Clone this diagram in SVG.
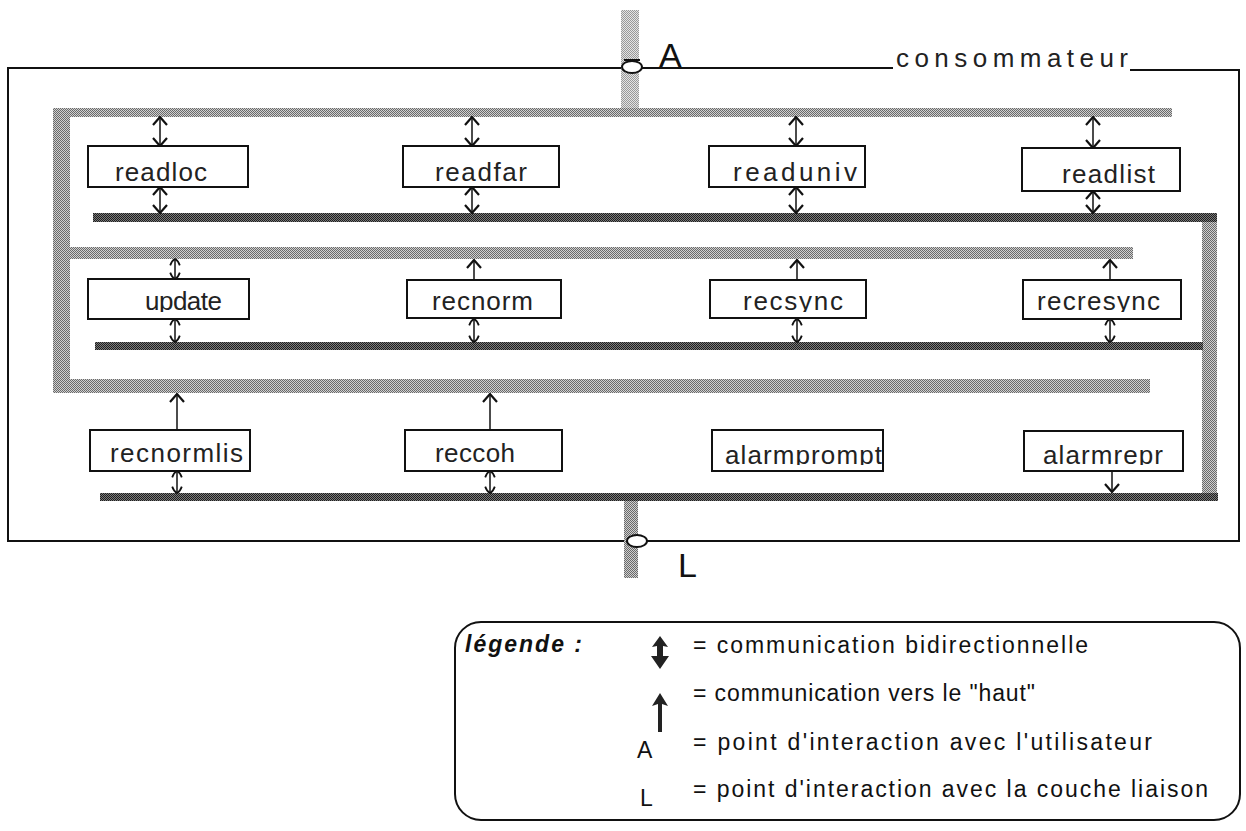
<svg xmlns="http://www.w3.org/2000/svg" width="1246" height="831" viewBox="0 0 1246 831">
<defs>
<pattern id="pDark" width="2" height="2" patternUnits="userSpaceOnUse"><rect width="2" height="2" fill="#7a7a7a"/><rect width="1" height="1" fill="#1e1e1e"/><rect x="1" y="1" width="1" height="1" fill="#1e1e1e"/></pattern>
<pattern id="pLight" width="2" height="2" patternUnits="userSpaceOnUse"><rect width="2" height="2" fill="#d0d0d0"/><rect width="1" height="1" fill="#6a6a6a"/><rect x="1" y="1" width="1" height="1" fill="#6a6a6a"/></pattern>
<pattern id="pPale" width="2" height="2" patternUnits="userSpaceOnUse"><rect width="2" height="2" fill="#e4e4e4"/><rect width="1" height="1" fill="#999"/><rect x="1" y="1" width="1" height="1" fill="#999"/></pattern>
<marker id="ah" viewBox="0 0 10 16" refX="9" refY="8" markerWidth="10" markerHeight="16" markerUnits="userSpaceOnUse" orient="auto-start-reverse"><path d="M1 1 L9 8 L1 15" fill="none" stroke="#111" stroke-width="2.2"/></marker>
<marker id="ahs" viewBox="0 0 10 14" refX="9" refY="7" markerWidth="8" markerHeight="14" markerUnits="userSpaceOnUse" orient="auto-start-reverse"><path d="M1 1 Q7 3 9 7 Q7 11 1 13" fill="none" stroke="#111" stroke-width="2.2"/></marker>
<clipPath id="clip2" clipPathUnits="userSpaceOnUse"><rect x="0" y="270" width="1246" height="42"/></clipPath>
<clipPath id="clip3" clipPathUnits="userSpaceOnUse"><rect x="0" y="420" width="1246" height="45"/></clipPath>
</defs>
<style>
.box{fill:#fff;stroke:#111;stroke-width:2}
.lbl{font-family:"Liberation Sans",Arial,sans-serif;font-size:26px;fill:#222}
.frame{fill:none;stroke:#111;stroke-width:2}
.bi{stroke:#111;stroke-width:1.5;fill:none;marker-start:url(#ah);marker-end:url(#ah)}
.bis{stroke:#111;stroke-width:1.5;fill:none;marker-start:url(#ahs);marker-end:url(#ahs)}
.up{stroke:#111;stroke-width:1.5;fill:none;marker-end:url(#ah)}
.leg{font-family:"Liberation Sans",Arial,sans-serif;font-size:23px;fill:#111}
</style>
<rect width="1246" height="831" fill="#fff"/>

<g id="consommateur">
<path class="frame" d="M893 68 H8 V541 H1239 V70 H1130"/>
<text class="lbl" x="896" y="67" textLength="232" lengthAdjust="spacing">consommateur</text>
</g>

<g id="bands">
<rect x="621" y="10" width="18" height="98" fill="url(#pPale)"/>
<rect x="53" y="108" width="1119" height="9" fill="url(#pLight)"/>
<rect x="53" y="108" width="17" height="285" fill="url(#pLight)"/>
<rect x="70" y="247" width="1063" height="12" fill="url(#pLight)"/>
<rect x="53" y="379" width="1097" height="14" fill="url(#pLight)"/>
<rect x="1202" y="213" width="15" height="288" fill="url(#pLight)"/>
<rect x="93" y="213" width="1124" height="9" fill="url(#pDark)"/>
<rect x="95" y="342" width="1108" height="8" fill="url(#pDark)"/>
<rect x="100" y="493" width="1118" height="8" fill="url(#pDark)"/>
<rect x="624" y="501" width="14" height="77" fill="url(#pLight)"/>
</g>

<g id="pointA">
<ellipse cx="632" cy="67" rx="10" ry="6" fill="#fff" stroke="#111" stroke-width="2"/>
<line x1="624" y1="60" x2="640" y2="60" stroke="#111" stroke-width="2"/>
<text x="659" y="67" font-family="Liberation Sans, Arial, sans-serif" font-size="34" fill="#111">A</text>
</g>
<g id="pointL">
<ellipse cx="637" cy="541" rx="10" ry="6" fill="#fff" stroke="#111" stroke-width="2"/>
<text x="678" y="577" font-family="Liberation Sans, Arial, sans-serif" font-size="34" fill="#111">L</text>
</g>

<g id="connectors">
<line class="bi" x1="160" y1="117" x2="160" y2="146"/>
<line class="bi" x1="160" y1="187" x2="160" y2="213"/>
<line class="bi" x1="472" y1="117" x2="472" y2="146"/>
<line class="bi" x1="472" y1="187" x2="472" y2="213"/>
<line class="bi" x1="796" y1="117" x2="796" y2="146"/>
<line class="bi" x1="796" y1="187" x2="796" y2="213"/>
<line class="bi" x1="1093" y1="117" x2="1093" y2="148"/>
<line class="bi" x1="1093" y1="191" x2="1093" y2="213"/>
<line class="bis" x1="175" y1="259" x2="175" y2="279"/>
<line class="bis" x1="175" y1="319" x2="175" y2="342"/>
<line class="up" x1="474" y1="280" x2="474" y2="260"/>
<line class="bis" x1="474" y1="319" x2="474" y2="342"/>
<line class="up" x1="797" y1="280" x2="797" y2="260"/>
<line class="bis" x1="797" y1="319" x2="797" y2="342"/>
<line class="up" x1="1110" y1="280" x2="1110" y2="260"/>
<line class="bis" x1="1110" y1="319" x2="1110" y2="342"/>
<line class="up" x1="177" y1="430" x2="177" y2="394"/>
<line class="bis" x1="177" y1="471" x2="177" y2="493"/>
<line class="up" x1="490" y1="430" x2="490" y2="394"/>
<line class="bis" x1="490" y1="471" x2="490" y2="493"/>
<line class="up" x1="1112" y1="466" x2="1112" y2="492"/>
</g>

<g id="readloc"><rect class="box" x="88" y="146" width="160" height="41"/><text class="lbl" x="115" y="181" textLength="92" lengthAdjust="spacing">readloc</text></g>
<g id="readfar"><rect class="box" x="403" y="146" width="156" height="41"/><text class="lbl" x="435" y="181" textLength="92" lengthAdjust="spacing">readfar</text></g>
<g id="readuniv"><rect class="box" x="709" y="146" width="156" height="41"/><text class="lbl" x="733" y="181" textLength="124" lengthAdjust="spacing">readuniv</text></g>
<g id="readlist"><rect class="box" x="1022" y="148" width="158" height="43"/><text class="lbl" x="1062" y="183" textLength="93" lengthAdjust="spacing">readlist</text></g>

<g id="update"><rect class="box" x="88" y="279" width="161" height="40"/><text class="lbl" clip-path="url(#clip2)" x="145" y="310" textLength="77" lengthAdjust="spacing">update</text></g>
<g id="recnorm"><rect class="box" x="407" y="280" width="154" height="38"/><text class="lbl" clip-path="url(#clip2)" x="432" y="310" textLength="101" lengthAdjust="spacing">recnorm</text></g>
<g id="recsync"><rect class="box" x="710" y="280" width="156" height="38"/><text class="lbl" clip-path="url(#clip2)" x="743" y="310" textLength="100" lengthAdjust="spacing">recsync</text></g>
<g id="recresync"><rect class="box" x="1023" y="280" width="158" height="39"/><text class="lbl" clip-path="url(#clip2)" x="1037" y="310" textLength="123" lengthAdjust="spacing">recresync</text></g>

<g id="recnormlis"><rect class="box" x="90" y="430" width="160" height="41"/><text class="lbl" clip-path="url(#clip3)" x="110" y="462" textLength="133" lengthAdjust="spacing">recnormlis</text></g>
<g id="reccoh"><rect class="box" x="405" y="430" width="157" height="41"/><text class="lbl" clip-path="url(#clip3)" x="435" y="462" textLength="80" lengthAdjust="spacing">reccoh</text></g>
<g id="alarmprompt"><rect class="box" x="712" y="430" width="171" height="41"/><text class="lbl" clip-path="url(#clip3)" x="725" y="464" textLength="157" lengthAdjust="spacing">alarmprompt</text></g>
<g id="alarmrepr"><rect class="box" x="1024" y="431" width="159" height="40"/><text class="lbl" clip-path="url(#clip3)" x="1043" y="464" textLength="120" lengthAdjust="spacing">alarmrepr</text></g>

<g id="legende">
<rect x="455" y="622" width="785" height="198" rx="26" fill="none" stroke="#111" stroke-width="2"/>
<text class="leg" x="465" y="652" font-size="22" font-weight="bold" font-style="italic" textLength="117" lengthAdjust="spacing">légende :</text>
<path d="M660 636 L668 647 L663 646 L663 656 L669 656 L660 669 L651 656 L657 656 L657 646 L652 647 Z" fill="#222"/>
<text class="leg" x="693" y="653" textLength="395" lengthAdjust="spacing">= communication bidirectionnelle</text>
<path d="M660 693 L668 706 L662 704 L662 732 L658 732 L658 704 L652 706 Z" fill="#222"/>
<text class="leg" x="693" y="701" textLength="342" lengthAdjust="spacing">= communication vers le "haut"</text>
<text class="leg" x="637" y="758">A</text>
<text class="leg" x="693" y="750" textLength="459" lengthAdjust="spacing">= point d'interaction avec l'utilisateur</text>
<text class="leg" x="640" y="806">L</text>
<text class="leg" x="693" y="797" textLength="515" lengthAdjust="spacing">= point d'interaction avec la couche liaison</text>
</g>
</svg>
